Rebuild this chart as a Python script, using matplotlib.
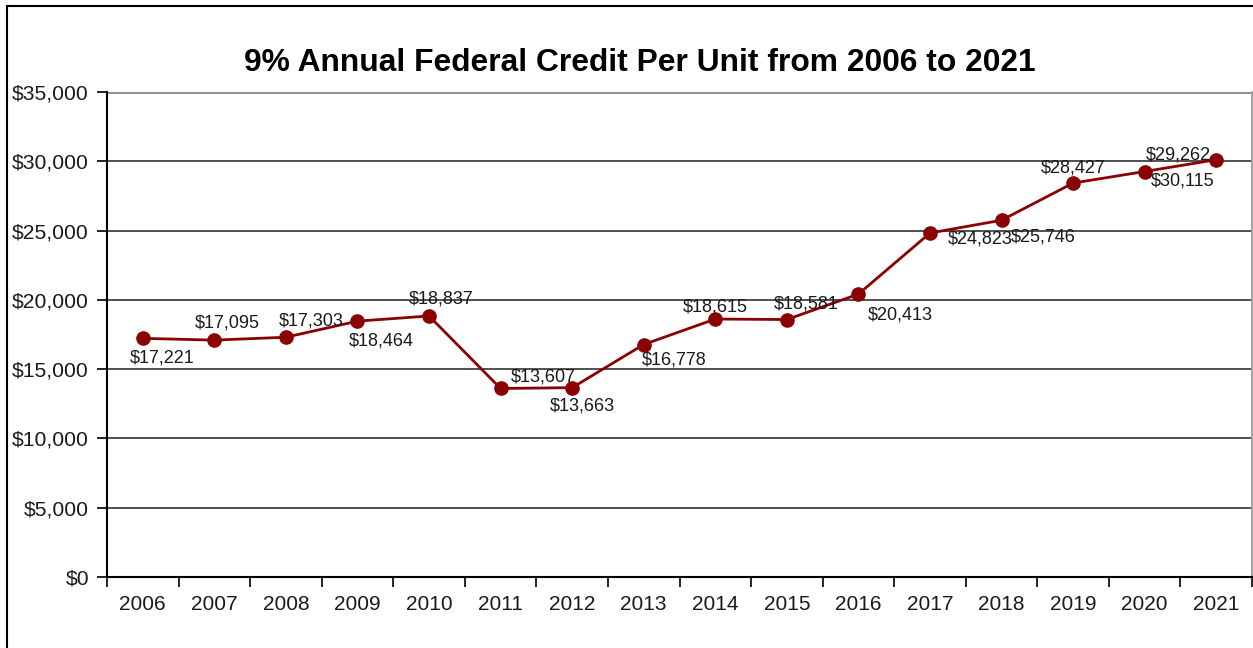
import matplotlib
matplotlib.use("Agg")
import matplotlib.pyplot as plt
from matplotlib.patches import Rectangle
from matplotlib.ticker import FuncFormatter, FixedLocator

plt.rcParams['font.family'] = ['Liberation Sans', 'DejaVu Sans']

years = ['2006', '2007', '2008', '2009', '2010', '2011', '2012', '2013',
         '2014', '2015', '2016', '2017', '2018', '2019', '2020', '2021']
credit_per_unit = [17221, 17095, 17303, 18464, 18837, 13607, 13663, 16778,
                   18615, 18581, 20413, 24823, 25746, 28427, 29262, 30115]
y_ticks = [0, 5000, 10000, 15000, 20000, 25000, 30000, 35000]

# label offsets from each marker, in points (dx, dy)
label_offsets = [(14, -14), (9, 12), (18, 12), (17, -14), (9, 12),
                 (31, 8), (7, -13), (22, -11), (0, 9), (14, 11),
                 (30, -15), (36, -4), (30, -12), (0, 11), (24, 12),
                 (-24, -15)]

W, H = 1253, 648
fig = plt.figure(figsize=(W / 100, H / 100), dpi=100)
ax = fig.add_axes([107 / W, (H - 577) / H, (1252 - 107) / W, (577 - 92) / H])

# outer chart frame
fig.patches.append(Rectangle((7 / W, -0.1), 1.2, (H - 6) / H + 0.1,
                             transform=fig.transFigure, fill=False,
                             edgecolor='black', linewidth=1.5, zorder=0))

x = list(range(len(years)))
ax.plot(x, credit_per_unit, color='#8B0000', linewidth=2.0, marker='o',
        markersize=9.5, markerfacecolor='#8B0000', markeredgecolor='#8B0000',
        zorder=4, clip_on=False)

for xi, v, (dx, dy) in zip(x, credit_per_unit, label_offsets):
    ax.annotate(f'${v:,}', (xi, v), xytext=(dx, dy), textcoords='offset points',
                ha='center', va='center', fontsize=13, color='#1a1a1a',
                zorder=5)

ax.set_xlim(-0.5, len(years) - 0.5)
ax.set_ylim(0, 35000)

ax.set_yticks(y_ticks)
ax.yaxis.set_major_formatter(FuncFormatter(lambda v, p: f'${int(v):,}'))
ax.tick_params(axis='y', direction='out', length=7, width=1.2, color='black',
               labelsize=15.2, labelcolor='#1a1a1a', pad=6)

ax.set_xticks(x)
ax.set_xticklabels(years)
ax.tick_params(axis='x', which='major', length=0, labelsize=15,
               labelcolor='#1a1a1a', pad=13)
ax.xaxis.set_minor_locator(FixedLocator([i - 0.5 for i in range(len(years) + 1)]))
ax.tick_params(axis='x', which='minor', direction='out', length=7, width=1.2,
               color='black')

for v in y_ticks[1:-1]:
    ax.axhline(v, color='#202020', linewidth=1.1, zorder=1)
ax.axhline(y_ticks[-1], color='#8c8c8c', linewidth=2.0, zorder=1)

ax.spines['left'].set_color('black')
ax.spines['left'].set_linewidth(1.5)
ax.spines['bottom'].set_color('black')
ax.spines['bottom'].set_linewidth(1.5)
ax.spines['right'].set_color('#9a9a9a')
ax.spines['right'].set_linewidth(1.3)
ax.spines['top'].set_visible(False)

fig.text(640 / W, (H - 63) / H, '9% Annual Federal Credit Per Unit from 2006 to 2021',
         ha='center', va='center', fontsize=22.9, fontweight='bold', color='black')

fig.savefig('out.png', dpi=100, facecolor='white')
